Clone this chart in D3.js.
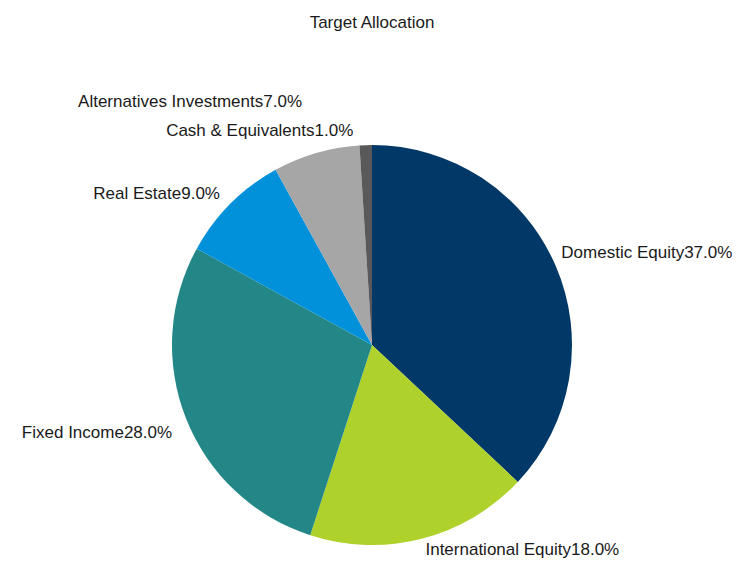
<!DOCTYPE html>
<meta charset="utf-8">
<html>
<head>
<title>Target Allocation</title>
<script src="https://d3js.org/d3.v7.min.js"></script>
<style>
body { margin: 0; background: #fff; }
text { font-family: "Liberation Sans", Arial, sans-serif; fill: #1a1a1a; }
</style>
</head>
<body>
<div id="chart"></div>
<script>
// data
var categories = ["Domestic Equity", "International Equity", "Fixed Income", "Real Estate", "Alternatives Investments", "Cash & Equivalents"];
var values = [37.0, 18.0, 28.0, 9.0, 7.0, 1.0];
var colors = ["#003867", "#afd12b", "#238787", "#0091da", "#a6a6a6", "#595959"];

var width = 738, height = 561;
var cx = 372, cy = 345, r = 200;

var svg = d3.select("#chart").append("svg")
  .attr("width", width)
  .attr("height", height);

svg.append("text")
  .attr("x", cx)
  .attr("y", 28)
  .attr("text-anchor", "middle")
  .style("font-size", "17px")
  .text("Target Allocation");

var data = categories.map(function(c, i) { return {name: c, value: values[i], color: colors[i]}; });

var pie = d3.pie().sort(null).value(function(d) { return d.value; });
var arc = d3.arc().innerRadius(0).outerRadius(r);
var labelArc = d3.arc().innerRadius(r * 1.075).outerRadius(r * 1.075);

var g = svg.append("g").attr("transform", "translate(" + cx + "," + cy + ")");
var arcs = pie(data);

g.selectAll("path")
  .data(arcs)
  .enter().append("path")
  .attr("d", arc)
  .attr("fill", function(d) { return d.data.color; });

// small nudges where the labels were pushed apart to avoid overlap
var nudge = {"Domestic Equity": [-8, -8], "International Equity": [0, -4], "Alternatives Investments": [-10, -37], "Cash & Equivalents": [-12, 0], "Fixed Income": [0, 8]};

g.selectAll("text.lbl")
  .data(arcs)
  .enter().append("text")
  .attr("class", "lbl")
  .attr("transform", function(d) {
    var p = labelArc.centroid(d);
    var n = nudge[d.data.name] || [0, 0];
    return "translate(" + (p[0] + n[0]) + "," + (p[1] + n[1]) + ")";
  })
  .attr("dy", "0.35em")
  .attr("text-anchor", function(d) {
    var mid = (d.startAngle + d.endAngle) / 2;
    return mid < Math.PI ? "start" : "end";
  })
  .style("font-size", "17px")
  .text(function(d) { return d.data.name + d3.format(".1f")(d.data.value) + "%"; });
</script>
</body>
</html>
